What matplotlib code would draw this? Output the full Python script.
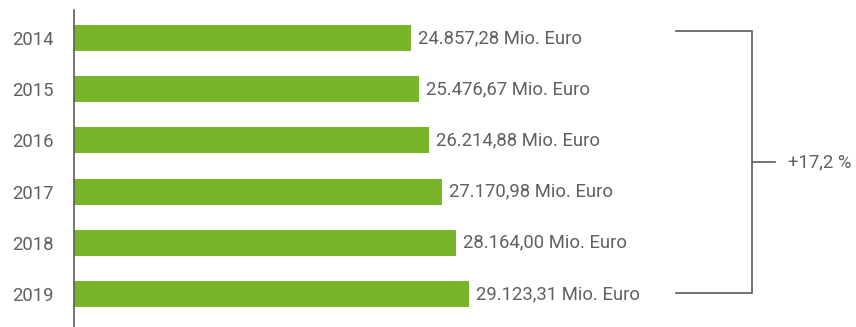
import matplotlib.pyplot as plt

plt.rcParams['font.family'] = ['Roboto', 'DejaVu Sans']

years = ["2014", "2015", "2016", "2017", "2018", "2019"]
values = [24857.28, 25476.67, 26214.88, 27170.98, 28164.00, 29123.31]
value_labels = ["24.857,28", "25.476,67", "26.214,88", "27.170,98", "28.164,00", "29.123,31"]

GREEN = "#77b62a"
GREY = "#5b5b5b"
TEXT = "#606060"
FS = 13.3

fig = plt.figure(figsize=(8.56, 3.27), dpi=100)
ax = fig.add_axes([74 / 856, 0, 782 / 856, 1])

pos = list(range(len(years)))
ax.barh(pos, values, height=0.508, color=GREEN)
ax.set_xlim(0, 57680)
ax.set_ylim(5.645, -0.742)

ax.set_yticks(pos)
ax.set_yticklabels(years, fontsize=FS, color=TEXT)
ax.tick_params(axis="y", length=0, pad=15)
ax.set_xticks([])
for side in ("top", "right", "bottom"):
    ax.spines[side].set_visible(False)
ax.spines["left"].set_color(GREY)
ax.spines["left"].set_linewidth(1.2)
ax.spines["left"].set_bounds(-0.547, 5.645)

for p, v, lab in zip(pos, values, value_labels):
    ax.annotate(f"{lab} Mio. Euro", (v, p), xytext=(5, 0), textcoords="offset points",
                va="center", ha="left", fontsize=FS, color=TEXT)

# bracket spanning first to last year with growth figure
growth = (values[-1] / values[0] - 1) * 100
x0, x1, x2 = 44405, 50045, 51700
y_top = pos[0] - 0.137
y_bot = pos[-1] - 0.02
y_mid = (y_top + y_bot) / 2
ax.plot([x0, x1, x1, x0], [y_top, y_top, y_bot, y_bot], color=GREY, lw=1.2,
        clip_on=False, solid_joinstyle="miter")
ax.plot([x1, x2], [y_mid, y_mid], color=GREY, lw=1.2, clip_on=False)
ax.text(52660, y_mid, f"+{growth:.1f} %".replace(".", ","), va="center", ha="left",
        fontsize=FS, color=TEXT)

fig.savefig("out.png", dpi=100)
